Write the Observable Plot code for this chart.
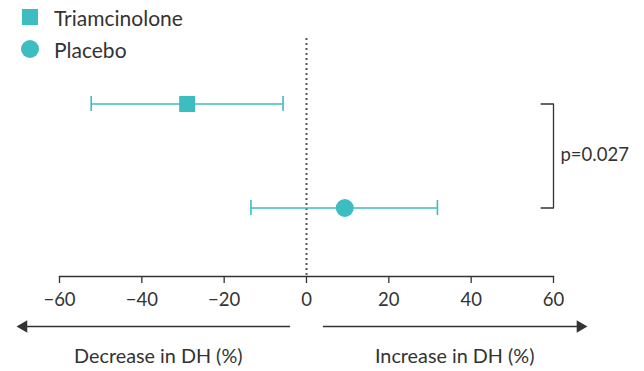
<!DOCTYPE html>
<html>
<head>
<meta charset="utf-8">
<script src="https://cdn.jsdelivr.net/npm/d3@7"></script>
<script src="https://cdn.jsdelivr.net/npm/@observablehq/plot@0.6"></script>
<style>
  html, body { margin: 0; padding: 0; background: #fff; }
  #wrap { position: relative; width: 644px; height: 371px; font-family: Lato, "Noto Sans", sans-serif; color: #333; }
  #legend { position: absolute; left: 0; top: 0; }
  .item { position: absolute; display: flex; align-items: center; white-space: nowrap; font-size: 21px; }
  .sw { display: inline-block; background: #3dbdc0; margin-right: 16px; }
</style>
</head>
<body>
<div id="wrap">
  <div id="chart"></div>
  <div id="legend"></div>
</div>
<script>
// ---- data ----
const groups = ["Triamcinolone", "Placebo"];
const symbols = ["square", "circle"];
const means = [-29, 9.3];
const lowers = [-52.3, -13.5];
const uppers = [-5.7, 31.8];
const xTicks = [-60, -40, -20, 0, 20, 40, 60];
const pLabel = "p=0.027";
const dirLabels = ["Decrease in DH (%)", "Increase in DH (%)"];
const dirLabelX = [-36, 36];
const arrowStart = [-4, 4];
const arrowEnd = [-68.7, 66.5];
const bracketX = [57, 60];

const teal = "#3dbdc0";
const ink = "#333";

const rows = groups.map((g, i) => ({group: g, mean: means[i], lo: lowers[i], hi: uppers[i]}));
const bracket = [
  {x: bracketX[0], y: groups[0]},
  {x: bracketX[1], y: groups[0]},
  {x: bracketX[1], y: groups[1]},
  {x: bracketX[0], y: groups[1]}
];
const arrows = dirLabels.map((t, i) => ({label: t, x1: arrowStart[i], x2: arrowEnd[i], lx: dirLabelX[i], rot: i === 0 ? -90 : 90}));

const font = "Lato, 'Noto Sans', sans-serif";

const chart = Plot.plot({
  width: 644,
  height: 371,
  marginLeft: 59,
  marginRight: 91,
  marginTop: 38,
  marginBottom: 95,
  style: {fontFamily: font, fontSize: "18px", color: ink, background: "white", overflow: "visible"},
  x: {domain: [-60, 60]},
  y: {type: "band", domain: groups, range: [96, 215], paddingInner: 0.856, paddingOuter: 0, axis: null},
  symbol: {domain: groups, range: symbols},
  marks: [
    Plot.ruleX([0], {stroke: "#555", strokeWidth: 2, strokeDasharray: "2,3"}),
    Plot.frame({anchor: "bottom", stroke: ink, strokeWidth: 1.3}),
    Plot.axisX(xTicks, {tickSize: 7, tickPadding: 9, fontSize: 18.5, stroke: ink, strokeWidth: 1.3, fill: ink, label: null}),
    Plot.ruleY(rows, {y: "group", x1: "lo", x2: "hi", stroke: teal, strokeWidth: 1.6}),
    Plot.tickX(rows, {x: "lo", y: "group", stroke: teal, strokeWidth: 1.6}),
    Plot.tickX(rows, {x: "hi", y: "group", stroke: teal, strokeWidth: 1.6}),
    Plot.dot(rows, {x: "mean", y: "group", symbol: "group", r: 9, fill: teal, stroke: "none"}),
    Plot.line(bracket, {x: "x", y: "y", stroke: ink, strokeWidth: 1.3, curve: "linear"}),
    Plot.text([pLabel], {x: () => bracketX[1], frameAnchor: "middle", text: d => d, textAnchor: "start", dx: 7, dy: -2, fontSize: 18.5, fill: ink}),
    Plot.link(arrows, {x1: "x1", x2: "x2", y1: () => groups[1], y2: () => groups[1], dy: 118.5, stroke: ink, strokeWidth: 1.5}),
    Plot.dot(arrows, {x: "x2", y: () => groups[1], dy: 118.5, symbol: "triangle", rotate: "rot", r: 4.6, fill: ink, stroke: "none"}),
    Plot.text(arrows, {x: "lx", y: () => groups[1], dy: 149, text: "label", fontSize: 19.8, fill: ink})
  ]
});
document.getElementById("chart").appendChild(chart);

// legend (HTML overlay)
const legend = document.getElementById("legend");
groups.forEach((g, i) => {
  const item = document.createElement("div");
  item.className = "item";
  const cy = i === 0 ? 17 : 49;
  const size = i === 0 ? 16 : 18;
  item.style.left = (30 - size / 2) + "px";
  item.style.top = (cy - 14) + "px";
  item.style.height = "28px";
  const sw = document.createElement("span");
  sw.className = "sw";
  sw.style.width = size + "px";
  sw.style.height = size + "px";
  sw.style.borderRadius = symbols[i] === "circle" ? "50%" : "0";
  sw.style.marginRight = (54 - (30 + size / 2)) + "px";
  item.appendChild(sw);
  item.appendChild(document.createTextNode(g));
  legend.appendChild(item);
});
</script>
</body>
</html>
